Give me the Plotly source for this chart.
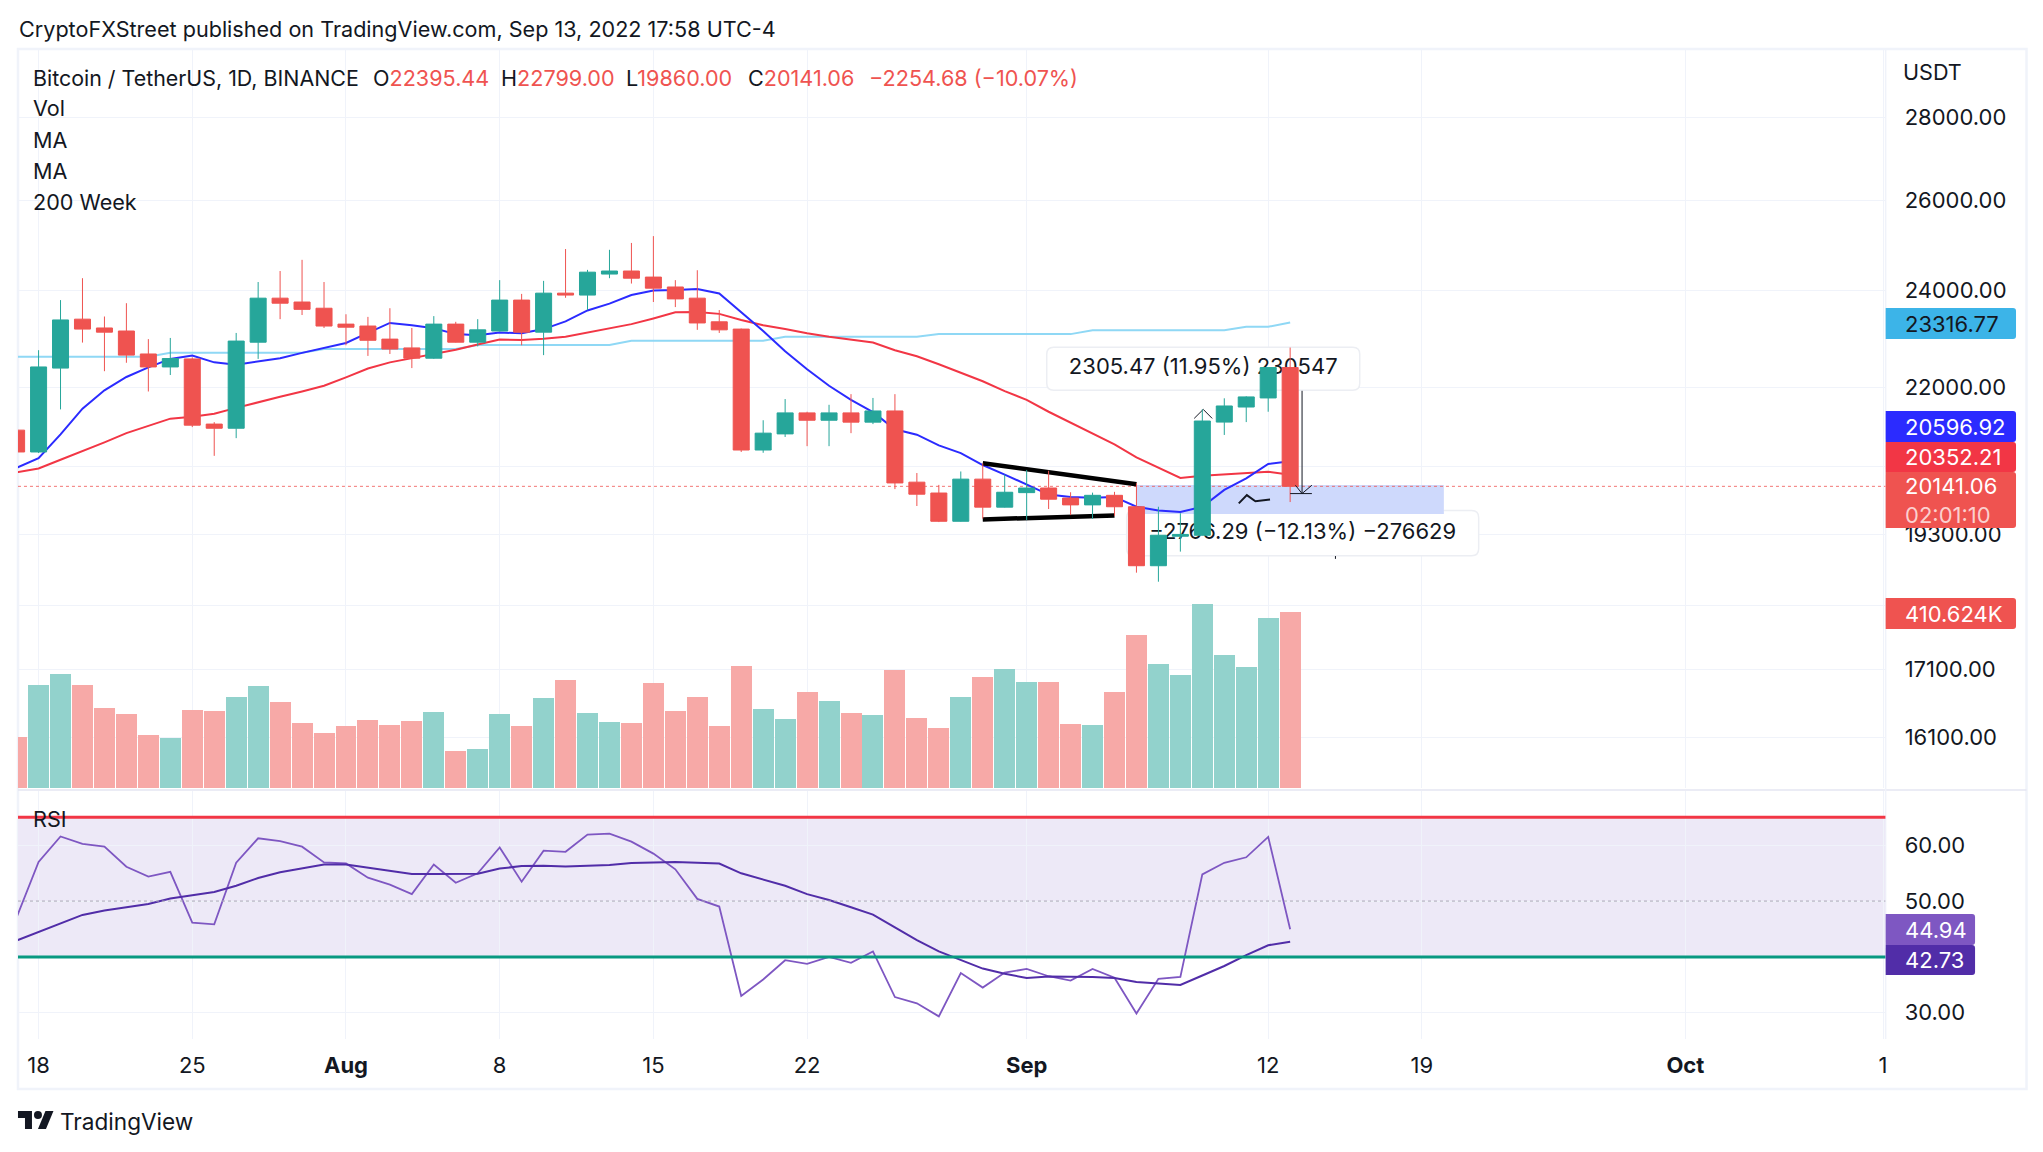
import pandas as pd
import plotly.graph_objects as go

W, H = 2043, 1152
FONT = "Inter"
INK = "#131722"
GRID = "#f0f3fa"
UP = "#26a69a"
DOWN = "#ef5350"

dates = pd.date_range("2022-07-17", periods=59, freq="D").strftime("%Y-%m-%d").tolist()

opens = [21178,20769,22385,23385,23202,23139,22669,22408,22569,21293,21214,22909,23828,23746,23615,
         23282,23242,22972,22792,22584,23282,22909,23139,23787,23115,23935,23894,24347,24413,24281,
         24067,23828,23330,23179,20805,21107,21507,21366,21507,21330,21544,20216,20021,19522,20271,19770,
         20028,20111,19931,19810,19980,19777,18762,19263,19280,21331,21620,21796,22395.44]
closes = [20769,22408,23369,23179,23115,22646,22408,22577,21272,21214,22932,23828,23721,23591,23242,
          23218,22948,22769,22584,23282,22909,23163,23787,23115,23935,23894,24388,24413,24257,24042,
          23812,23306,23163,20805,21121,21507,21366,21507,21330,21544,20202,20000,19522,20271,19770,20035,
          20111,19911,19810,19980,19777,18762,19280,19294,21351,21640,21816,22395,20141.06]
highs = [21600,22746,23787,24257,23441,23721,22972,22996,22600,21330,23099,24174,24413,24658,24174,
         23488,23433,23615,23202,23449,23330,23385,24215,23919,24199,24897,24438,24880,25033,25186,
         24215,24430,23576,23190,21366,21774,21529,21663,21870,21796,21870,20382,20167,20410,20560,20354,
         20438,20424,20035,20028,20042,20195,19777,19663,21574,21789,21830,22400,22799]
lows = [20740,20750,21574,22901,22323,22492,21922,22247,21236,20697,21027,22569,23385,23472,23202,
        22846,22630,22669,22385,22569,22901,22823,23130,22846,22646,23836,23576,24257,24141,23746,
        23639,23163,23099,20769,20754,21049,20877,20877,21121,21293,20091,19790,19508,19515,19569,19763,
        19542,19737,19630,19562,19616,18646,18496,19000,19275,21087,21331,21529,19860]
volumes_k = [119,240,266,240,186,173,123,117,182,179,213,238,201,151,128,
             145,158,147,156,177,87,91,173,145,210,252,175,154,151,245,
             179,213,145,285,184,161,224,203,175,170,275,163,140,213,258,277,
             247,247,150,147,224,356,289,263,428,310,282,396,410.624]
ma_fast = [20479,20654,21099,21588,21945,22208,22400,22569,22638,22500,22454,22515,22584,22692,22800,
           22893,23099,23306,23258,23194,23075,23051,23107,23091,23179,23338,23568,23713,23894,23993,
           24001,24026,23927,23536,23139,22723,22362,22034,21759,21522,21193,21092,20891,20747,20528,20354,
           20167,19993,19952,19938,19952,19777,19710,19683,19777,20077,20285,20549,20596.92]
ma_slow = [20396,20465,20625,20783,20948,21121,21265,21396,21433,21492,21603,21715,21819,21922,22034,
           22201,22377,22500,22584,22669,22753,22861,22964,22956,22980,23020,23107,23194,23282,23401,
           23528,23536,23496,23369,23258,23179,23091,23020,22956,22901,22746,22623,22462,22285,22124,21930,
           21759,21529,21322,21121,20912,20668,20479,20292,20334,20358,20375,20403,20352.21]
ma_200w = [22615]*7 + [22692]*7 + [22769]*7 + [22853]*7 + [22940]*7 + [23020]*7 + [23075]*7 + [23155]*7 + [23226]*2 + [23316.77]
rsi = [47.06,56.99,61.57,60.26,59.74,56.14,54.38,55.23,46.14,45.82,56.86,61.24,60.72,59.74,56.93,
       56.73,54.18,52.94,51.24,56.54,53.27,54.97,59.61,53.46,59.02,58.82,61.90,62.09,60.65,58.50,
       55.69,50.39,49.02,33.01,35.95,39.41,38.76,40.0,38.95,40.98,32.81,31.70,29.35,37.12,34.51,37.19,
       37.84,36.54,35.75,37.84,36.27,29.87,36.08,36.41,54.77,56.86,57.84,61.50,44.94]
rsi_ma = [42.94,44.44,46.08,47.52,48.30,48.95,49.48,50.46,50.98,51.63,52.75,54.12,55.16,55.88,56.54,
          56.54,56.01,55.42,54.84,54.84,54.84,54.90,55.82,56.27,56.34,56.21,56.34,56.47,56.80,56.93,
          56.99,56.86,56.73,54.97,53.79,52.75,51.24,50.20,48.89,47.58,45.29,43.01,40.98,39.48,37.91,37.0,
          36.21,36.47,36.47,36.41,36.21,35.49,35.23,34.97,36.67,38.37,40.33,42.09,42.73]

price_ticks = [28000, 26000, 24000, 22000, 20500, 19300, 18100, 17100, 16100]
price_tick_text = ["28000.00", "26000.00", "24000.00", "22000.00", "", "19300.00", "", "17100.00", "16100.00"]
rsi_ticks = [60, 50, 30]
time_tick_dates = ["2022-07-18","2022-07-25","2022-08-01","2022-08-08","2022-08-15","2022-08-22",
                   "2022-09-01","2022-09-12","2022-09-19","2022-10-01","2022-10-10"]
time_tick_text = ["18","25","<b>Aug</b>","8","15","22","<b>Sep</b>","12","19","<b>Oct</b>","1"]
x_range = ["2022-07-17 01:30", "2022-10-10 02:53"]
price_range_log = [4.18704, 4.47376]
volume_range_k = [0, 1722]
rsi_range = [25.3, 69.8]

flag_upper_x = ["2022-08-30", "2022-09-06"]
flag_upper_y = [20560, 20180]
flag_lower_x = ["2022-08-30", "2022-09-05"]
flag_lower_y = [19555, 19623]
zone_x = ["2022-09-06", "2022-09-20", "2022-09-20", "2022-09-06", "2022-09-06"]
zone_y = [20167, 20167, 19650, 19650, 20167]
up_arrow_x = ["2022-09-08 15:07", "2022-09-09 01:00", "2022-09-09 10:48"]
up_arrow_y = [21401, 21574, 21401]
down_arrow_x = ["2022-09-13 13:00", "2022-09-13 13:00", None, "2022-09-13 05:45", "2022-09-13 13:00", "2022-09-13 23:45", None, "2022-09-13 00:00", "2022-09-13 23:45"]
down_arrow_y = [21935, 20011, None, 20161, 20011, 20161, None, 20011, 20011]
scribble_x = ["2022-09-10 15:50", "2022-09-11 00:40", "2022-09-11 10:00", "2022-09-12 02:00"]
scribble_y = [19836, 19984, 19875, 19905]
tick_mark_x = ["2022-09-15 01:30", "2022-09-15 01:30"]
tick_mark_y = [18925, 18877]
label_up = ("2022-09-09 01:00", 22375, "2305.47 (11.95%) 230547", 977)
label_down = ("2022-09-13 13:40", 19315, "\u22122766.29 (\u221212.13%) \u2212276629", 594)

fig = go.Figure()

vol_colors = ["#92d2cc" if c >= o else "#f7a9a7" for o, c in zip(opens, closes)]
fig.add_trace(go.Bar(x=dates, y=volumes_k, marker_color=vol_colors, marker_line_width=0,
                     width=86400000 * 0.955, yaxis="y", xaxis="x", hoverinfo="skip"))

fig.add_trace(go.Scatter(x=zone_x, y=zone_y, yaxis="y2", mode="lines", fill="toself",
                         fillcolor="#ced9fc", line=dict(width=0), hoverinfo="skip"))
fig.add_trace(go.Scatter(x=x_range, y=[closes[-1], closes[-1]], yaxis="y2", mode="lines",
                         line=dict(color=DOWN, width=0.8, dash="dot"), hoverinfo="skip"))
for series, color, lw in [(ma_200w, "#8fd8f5", 2), (ma_slow, "#f23645", 2), (ma_fast, "#2b2bff", 2)]:
    fig.add_trace(go.Scatter(x=dates, y=series, yaxis="y2", mode="lines",
                             line=dict(color=color, width=lw), hoverinfo="skip"))
for xs, ys, lw in [(up_arrow_x, up_arrow_y, 1), (tick_mark_x, tick_mark_y, 1),
                   (flag_upper_x, flag_upper_y, 4.5), (flag_lower_x, flag_lower_y, 4.5),
                   (scribble_x, scribble_y, 2)]:
    fig.add_trace(go.Scatter(x=xs, y=ys, yaxis="y2", mode="lines",
                             line=dict(color="#000000" if lw > 3 else INK, width=lw), hoverinfo="skip"))
for lab in (label_up, label_down):
    fig.add_trace(go.Scatter(x=[lab[0]], y=[lab[1]], yaxis="y2", mode="text", text=[lab[2]],
                             textposition="middle center",
                             textfont=dict(family=FONT, size=22, color=INK), hoverinfo="skip"))

fig.add_trace(go.Candlestick(x=dates, open=opens, high=highs, low=lows, close=closes, yaxis="y3", xaxis="x",
                             increasing=dict(line=dict(color=UP, width=1), fillcolor=UP),
                             decreasing=dict(line=dict(color=DOWN, width=1), fillcolor=DOWN),
                             whiskerwidth=0, hoverinfo="skip"))
fig.add_trace(go.Scatter(x=down_arrow_x, y=down_arrow_y, yaxis="y3", mode="lines",
                         line=dict(color=INK, width=1), hoverinfo="skip", connectgaps=False))

fig.add_trace(go.Scatter(x=dates, y=rsi, yaxis="y4", mode="lines", line=dict(color="#7e57c2", width=1.8), hoverinfo="skip"))
fig.add_trace(go.Scatter(x=dates, y=rsi_ma, yaxis="y4", mode="lines", line=dict(color="#512da8", width=2), hoverinfo="skip"))


def px(x):
    return x / W


def py(y):
    return 1 - y / H


def rounded(hw, hh, r):
    return (f"M {-hw + r} {-hh} L {hw - r} {-hh} Q {hw} {-hh} {hw} {-hh + r} L {hw} {hh - r} Q {hw} {hh} {hw - r} {hh} "
            f"L {-hw + r} {hh} Q {-hw} {hh} {-hw} {hh - r} L {-hw} {-hh + r} Q {-hw} {-hh} {-hw + r} {-hh} Z")


PANE_R = 1887.5
shapes = []
shapes.append(dict(type="rect", xref="x", yref="y4", x0=x_range[0], x1=x_range[1], y0=40, y1=65,
                   fillcolor="#ede9f7", line_width=0, layer="below"))
shapes.append(dict(type="line", xref="x", yref="y4", x0=x_range[0], x1=x_range[1], y0=50, y1=50,
                   line=dict(color="#a9a5b5", width=1, dash="dot"), layer="above"))
shapes.append(dict(type="line", xref="x", yref="y4", x0=x_range[0], x1=x_range[1], y0=65, y1=65,
                   line=dict(color="#f23645", width=3), layer="above"))
shapes.append(dict(type="line", xref="x", yref="y4", x0=x_range[0], x1=x_range[1], y0=40, y1=40,
                   line=dict(color="#089981", width=3), layer="above"))
for lab, hw, hh in [(label_up, 156.5, 21.5), (label_down, 176, 22.7)]:
    shapes.append(dict(type="path", xref="x", yref="y", xsizemode="pixel", ysizemode="pixel",
                       xanchor=lab[0], yanchor=lab[3], path=rounded(hw, hh, 7),
                       fillcolor="#ffffff", line=dict(color="#eceef3", width=1.5), layer="between"))
shapes.append(dict(type="rect", xref="paper", yref="paper", x0=px(18), x1=px(2028.5), y0=py(1089), y1=py(49),
                   line=dict(color=GRID, width=2.5), layer="below"))
shapes.append(dict(type="line", xref="paper", yref="paper", x0=px(18), x1=px(2028.5), y0=py(790), y1=py(790),
                   line=dict(color="#e4e6f2", width=1.5), layer="below"))
shapes.append(dict(type="line", xref="paper", yref="paper", x0=px(PANE_R), x1=px(PANE_R), y0=py(1039), y1=py(49),
                   line=dict(color=GRID, width=1.5), layer="below"))
lx, ly = 18, 1107
shapes.append(dict(type="path", xref="paper", yref="paper", fillcolor=INK, line_width=0, layer="above",
                   path=" ".join(f"{c} {px(lx + a):.5f} {py(ly + b):.5f}" for c, a, b in
                                 [("M", 14, 22), ("L", 7, 22), ("L", 7, 11), ("L", 0, 11), ("L", 0, 4), ("L", 14, 4)]) + " Z"))
shapes.append(dict(type="path", xref="paper", yref="paper", fillcolor=INK, line_width=0, layer="above",
                   path=" ".join(f"{c} {px(lx + a):.5f} {py(ly + b):.5f}" for c, a, b in
                                 [("M", 28, 22), ("L", 20, 22), ("L", 27.5, 4), ("L", 35.5, 4)]) + " Z"))
shapes.append(dict(type="circle", xref="paper", yref="paper", fillcolor=INK, line_width=0, layer="above",
                   x0=px(lx + 16), x1=px(lx + 24), y0=py(ly + 12), y1=py(ly + 4)))

ann = []


def text(x, y, s, size=21.6, color=INK):
    ann.append(dict(xref="paper", yref="paper", x=px(x), y=py(y), text=s, showarrow=False, xanchor="left",
                    yanchor="middle", font=dict(family=FONT, size=size, color=color), align="left"))


def red(s):
    return f'<span style="color:{DOWN}">{s}</span>'


text(17, 29, "CryptoFXStreet published on TradingView.com, Sep 13, 2022 17:58 UTC-4")
text(31, 78, "Bitcoin / TetherUS, 1D, BINANCE", size=21.4)
text(371, 78, "O" + red("22395.44"))
text(499, 78, "H" + red("22799.00"))
text(625, 78, "L" + red("19860.00"))
text(747, 78, "C" + red("20141.06"))
text(868, 78, red("\u22122254.68 (\u221210.07%)"))
text(31, 108, "Vol")
text(31, 139.5, "MA")
text(31, 170.7, "MA")
text(31, 202, "200 Week")
text(31, 819, "RSI")
text(1903, 72, "USDT")
text(58, 1121, "TradingView", size=22.6)


def badge(top, bottom, right, bg, s, color="#ffffff"):
    r = 3
    shapes.append(dict(type="path", xref="paper", yref="paper", fillcolor=bg, line_width=0, layer="above",
                       path=(f"M {px(PANE_R):.5f} {py(top):.5f} L {px(right - r):.5f} {py(top):.5f} "
                             f"Q {px(right):.5f} {py(top):.5f} {px(right):.5f} {py(top + r):.5f} "
                             f"L {px(right):.5f} {py(bottom - r):.5f} "
                             f"Q {px(right):.5f} {py(bottom):.5f} {px(right - r):.5f} {py(bottom):.5f} "
                             f"L {px(PANE_R):.5f} {py(bottom):.5f} Z")))
    text(1905, (top + bottom) / 2, s, size=22, color=color)


badge(308, 339, 2018, "#3cb4e8", "23316.77", INK)
badge(411, 442, 2018, "#2b2bff", "20596.92")
badge(442, 472, 2018, "#f23645", "20352.21")
badge(472, 528, 2018, DOWN, '20141.06<br><span style="color:#fbd0cf">02:01:10</span>')
badge(598, 629, 2018, DOWN, "410.624K")
badge(914, 945, 1977, "#7e57c2", "44.94")
badge(945, 975, 1977, "#512da8", "42.73")

tickfont = dict(family=FONT, size=22, color=INK)
fig.update_layout(
    width=W, height=H, margin=dict(l=0, r=0, t=0, b=0), showlegend=False, barmode="overlay", bargap=0,
    paper_bgcolor="#ffffff", plot_bgcolor="rgba(0,0,0,0)", boxgap=0.27, boxgroupgap=0,
    shapes=shapes, annotations=ann,
    xaxis=dict(domain=[px(18), px(PANE_R)], range=x_range, type="date", anchor="y4",
               tickmode="array", tickvals=time_tick_dates, ticktext=time_tick_text, tickfont=tickfont,
               showgrid=True, gridcolor=GRID, gridwidth=1, zeroline=False, ticks="", ticklabelstandoff=11,
               rangeslider=dict(visible=False), showline=False),
    yaxis=dict(domain=[py(788), py(49)], range=volume_range_k, visible=False, showgrid=False, fixedrange=True),
    yaxis2=dict(overlaying="y", side="right", anchor="x", type="log", range=price_range_log,
                tickmode="array", tickvals=price_ticks, ticktext=price_tick_text, tickfont=tickfont,
                showgrid=True, gridcolor=GRID, gridwidth=1, zeroline=False, ticks="", ticklabelstandoff=18),
    yaxis3=dict(overlaying="y", side="right", anchor="x", type="log", range=price_range_log, visible=False, showgrid=False),
    yaxis4=dict(domain=[py(1039), py(790.5)], range=rsi_range, side="right", anchor="x",
                tickmode="array", tickvals=rsi_ticks, tickformat=".2f", tickfont=tickfont,
                showgrid=True, gridcolor=GRID, gridwidth=1, zeroline=False, ticks="", ticklabelstandoff=18),
)

fig.write_html("out.html", config={"displayModeBar": False},
               post_script="document.body.style.margin='0';document.body.style.overflow='hidden';")
